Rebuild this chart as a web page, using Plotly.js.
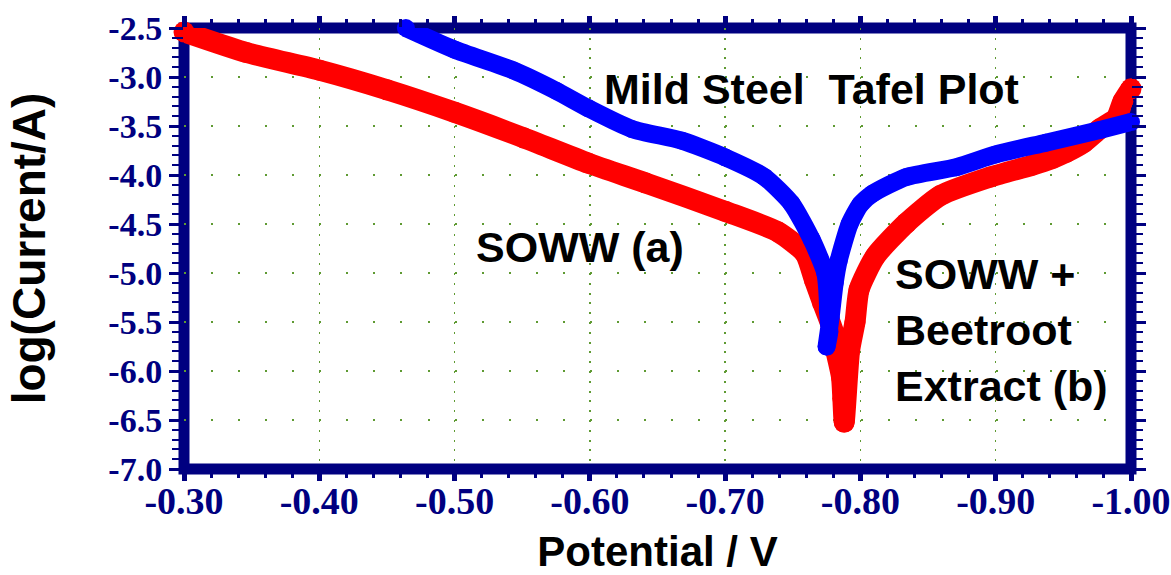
<!DOCTYPE html>
<html>
<head>
<meta charset="utf-8">
<script src="https://cdn.plot.ly/plotly-3.0.1.min.js"></script>
<style>
html,body{margin:0;padding:0;background:#fff;}
#chart{width:1171px;height:575px;}
</style>
</head>
<body>
<div id="chart"></div>
<script>
// Potential (V) and log(Current/A)
const soww_potential = [-0.300,-0.346,-0.400,-0.450,-0.500,-0.551,-0.599,-0.641,-0.700,-0.739,-0.759,-0.766,-0.772,-0.780,-0.782,-0.786,-0.787,-0.788,-0.792,-0.796,-0.799,-0.811,-0.834,-0.859,-0.896,-0.927,-0.942,-0.952,-0.965,-0.977,-0.989,-0.994,-1.000];
const soww_logI      = [-2.54, -2.75, -2.93, -3.13, -3.36, -3.62, -3.88, -4.08, -4.37, -4.58, -4.80, -5.07, -5.30, -5.60, -5.80, -6.06, -6.28, -6.52, -5.79, -5.50, -5.17, -4.83, -4.49, -4.21, -4.02, -3.90, -3.83, -3.77, -3.67, -3.53, -3.42, -3.25, -3.12];

const beet_potential = [-0.464,-0.500,-0.543,-0.575,-0.599,-0.631,-0.668,-0.700,-0.729,-0.749,-0.764,-0.774,-0.776,-0.776,-0.777,-0.775,-0.778,-0.781,-0.784,-0.792,-0.800,-0.809,-0.834,-0.871,-0.900,-0.937,-0.977,-1.000];
const beet_logI      = [-2.50, -2.72, -2.93, -3.14, -3.32, -3.53, -3.65, -3.82, -4.02, -4.29, -4.66, -5.00, -5.31, -5.38, -5.60, -5.75, -5.45, -5.10, -4.87, -4.50, -4.30, -4.19, -4.02, -3.92, -3.79, -3.67, -3.54, -3.46];

const xTickVals = [-0.30,-0.40,-0.50,-0.60,-0.70,-0.80,-0.90,-1.00];
const xTickText = ["-0.30","-0.40","-0.50","-0.60","-0.70","-0.80","-0.90","-1.00"];
const yTickVals = [-2.5,-3.0,-3.5,-4.0,-4.5,-5.0,-5.5,-6.0,-6.5,-7.0];
const yTickText = ["-2.5","-3.0","-3.5","-4.0","-4.5","-5.0","-5.5","-6.0","-6.5","-7.0"];

const navy = '#000080';
const gridGreen = '#5f9a32';

const traces = [
  {
    x: soww_potential, y: soww_logI, name: 'SOWW (a)',
    type: 'scatter', mode: 'lines+markers', cliponaxis: false,
    line: {color: '#ff0000', width: 21, shape: 'spline', smoothing: 0.6},
    marker: {color: '#ff0000', size: 21}
  },
  {
    x: beet_potential, y: beet_logI, name: 'SOWW + Beetroot Extract (b)',
    type: 'scatter', mode: 'lines+markers', cliponaxis: false,
    line: {color: '#0000ff', width: 18, shape: 'spline', smoothing: 0.6},
    marker: {color: '#0000ff', size: 18}
  }
];

const layout = {
  width: 1171, height: 575,
  margin: {l: 184, r: 40, t: 28, b: 106},
  paper_bgcolor: '#ffffff',
  plot_bgcolor: 'rgba(0,0,0,0)',
  showlegend: false,
  xaxis: {
    range: [-0.30, -1.00],
    tickmode: 'array', tickvals: xTickVals, ticktext: xTickText,
    ticks: 'outside', ticklen: 11, tickwidth: 5, tickcolor: navy,
    ticklabelstandoff: -13,
    mirror: 'ticks', showline: false, zeroline: false,
    showgrid: true, gridcolor: gridGreen, gridwidth: 1.5, griddash: '2px,7.8px',
    tickfont: {family: 'Liberation Serif, Times New Roman, serif', size: 38, color: navy, weight: 'bold'},
    minor: {tickmode: 'linear', tick0: -0.30, dtick: 0.02, ticks: 'outside', ticklen: 8, tickwidth: 3, tickcolor: navy, showgrid: false},
    title: {text: 'Potential / V', font: {family: 'Liberation Sans, Arial, sans-serif', size: 42, color: '#000000', weight: 'bold'}, standoff: 20}
  },
  yaxis: {
    range: [-7.0, -2.5],
    tickmode: 'array', tickvals: yTickVals, ticktext: yTickText,
    ticks: 'outside', ticklen: 14, tickwidth: 3, tickcolor: navy,
    mirror: 'ticks', showline: false, zeroline: false,
    showgrid: true, gridcolor: gridGreen, gridwidth: 1.5, griddash: '2px,25.06px',
    tickfont: {family: 'Liberation Serif, Times New Roman, serif', size: 34, color: navy, weight: 'bold'},
    minor: {tickmode: 'linear', tick0: -7.0, dtick: 0.1, ticks: 'outside', ticklen: 11, tickwidth: 2, tickcolor: navy, showgrid: false},
    title: {text: 'log(Current/A)', font: {family: 'Liberation Sans, Arial, sans-serif', size: 46, color: '#000000', weight: 'bold'}, standoff: 48}
  },
  shapes: [
    {type: 'rect', xref: 'paper', yref: 'paper', x0: 0, x1: 1, y0: 0, y1: 1,
     line: {color: navy, width: 11}, fillcolor: 'rgba(0,0,0,0)', layer: 'below'}
  ],
  annotations: [
    {text: 'Mild Steel\u00a0\u00a0Tafel Plot', xref: 'x', yref: 'y', x: -0.7638, y: -3.12,
     showarrow: false, xanchor: 'center', yanchor: 'middle',
     font: {family: 'Liberation Sans, Arial, sans-serif', size: 43, color: '#000000', weight: 'bold'}},
    {text: 'SOWW (a)', xref: 'x', yref: 'y', x: -0.5927, y: -4.73,
     showarrow: false, xanchor: 'center', yanchor: 'middle',
     font: {family: 'Liberation Sans, Arial, sans-serif', size: 43, color: '#000000', weight: 'bold'}},
    {text: 'SOWW +<br>Beetroot<br>Extract (b)', xref: 'x', yref: 'y', x: -0.824, y: -5.58,
     showarrow: false, xanchor: 'left', yanchor: 'middle', align: 'left',
     font: {family: 'Liberation Sans, Arial, sans-serif', size: 43, color: '#000000', weight: 'bold'}}
  ]
};

Plotly.newPlot('chart', traces, layout, {displayModeBar: false, staticPlot: true});
</script>
</body>
</html>
